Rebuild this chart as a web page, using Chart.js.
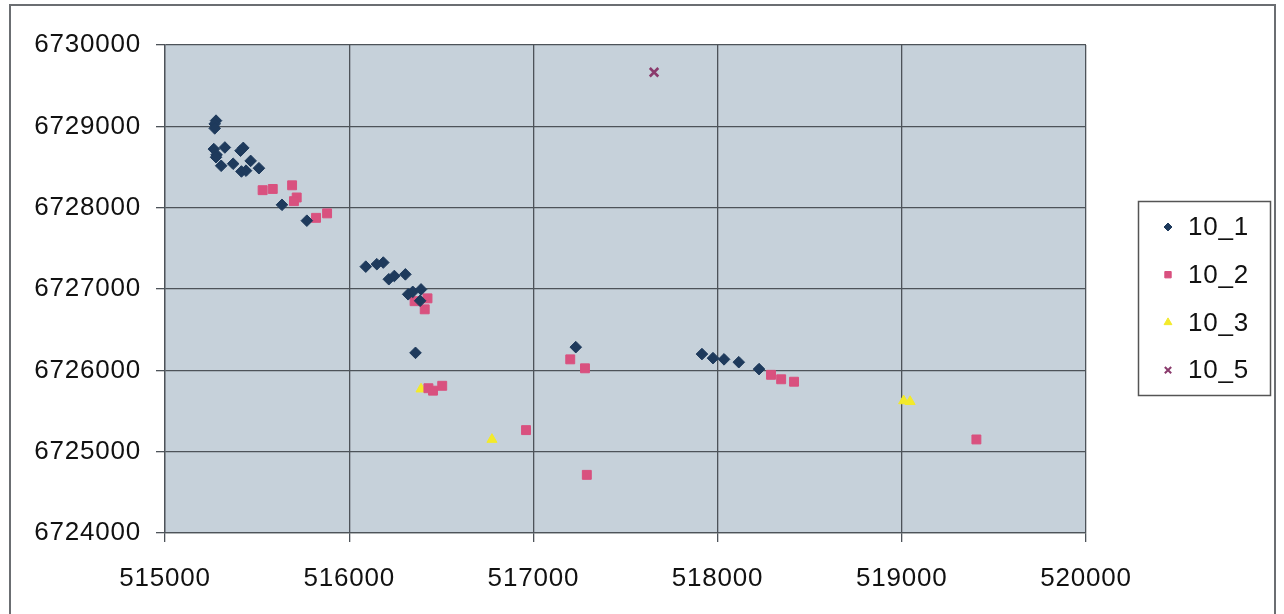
<!DOCTYPE html>
<html>
<head>
<meta charset="utf-8">
<script src="https://cdn.jsdelivr.net/npm/chart.js@4/dist/chart.umd.min.js"></script>
<style>
  html, body { margin: 0; padding: 0; background: #fff; }
  #wrap { width: 1284px; height: 614px; }
</style>
</head>
<body>
<div id="wrap"><canvas id="plot" width="1284" height="614"></canvas></div>
<script>
// Easting / northing tick values
const xTicks = [515000, 516000, 517000, 518000, 519000, 520000];
const yTicks = [6724000, 6725000, 6726000, 6727000, 6728000, 6729000, 6730000];

// survey points per series, [easting, northing]
const pts10_1 = [
  [515277, 6729070], [515270, 6729030], [515270, 6728975],
  [515265, 6728720], [515325, 6728740], [515280, 6728650], [515277, 6728620],
  [515305, 6728515], [515370, 6728540], [515425, 6728735], [515410, 6728700],
  [515465, 6728575], [515415, 6728445], [515440, 6728455], [515510, 6728485],
  [515635, 6728035], [515770, 6727840],
  [516090, 6727275], [516150, 6727305], [516185, 6727325], [516215, 6727120],
  [516245, 6727160], [516305, 6727180], [516320, 6726935], [516345, 6726965],
  [516390, 6726995], [516385, 6726855], [516360, 6726215],
  [517230, 6726285],
  [517915, 6726200], [517975, 6726150], [518035, 6726135], [518115, 6726100],
  [518225, 6726015]
];
const pts10_2 = [
  [515530, 6728215], [515585, 6728230], [515690, 6728275], [515715, 6728125],
  [515700, 6728080], [515820, 6727875], [515880, 6727930],
  [516355, 6726850], [516425, 6726885], [516410, 6726750],
  [516430, 6725780], [516455, 6725750], [516505, 6725810],
  [516960, 6725265], [517200, 6726135], [517280, 6726025], [517290, 6724715],
  [518290, 6725945], [518345, 6725890], [518415, 6725860],
  [519405, 6725150]
];
const pts10_3 = [
  [516390, 6725770], [516775, 6725150], [519010, 6725625], [519045, 6725615]
];
const pts10_5 = [
  [517655, 6729665]
];

const seriesNames = ['10_1', '10_2', '10_3', '10_5'];

const FONT = { family: '"Liberation Sans", Arial, sans-serif', size: 26 };
const GRID = '#4d5359';
const SPACING = '0.8px';

function toXY(list) {
  return list.map(p => ({ x: p[0], y: p[1] }));
}

// white page, outer frame and the grey plot background
const backdrop = {
  id: 'backdrop',
  beforeUpdate(chart) {
    // slightly wider lettering for all labels
    chart.ctx.letterSpacing = SPACING;
  },
  beforeDraw(chart) {
    const { ctx, chartArea: a } = chart;
    ctx.letterSpacing = SPACING;
    ctx.save();
    ctx.fillStyle = '#fff';
    ctx.fillRect(0, 0, chart.width, chart.height);
    ctx.strokeStyle = '#6b6e72';
    ctx.lineWidth = 2;
    ctx.beginPath();
    ctx.moveTo(10, chart.height + 5);
    ctx.lineTo(10, 5);
    ctx.lineTo(1275, 5);
    ctx.lineTo(1275, chart.height + 5);
    ctx.stroke();
    ctx.fillStyle = '#c6d1da';
    ctx.fillRect(a.left, a.top, a.right - a.left, a.bottom - a.top);
    ctx.restore();
  }
};

// boxed legend on the right
const boxLegend = {
  id: 'boxLegend',
  afterDraw(chart) {
    const { ctx } = chart;
    const left = 1138, top = 201, w = 132, h = 194;
    ctx.save();
    ctx.strokeStyle = '#555';
    ctx.lineWidth = 1.5;
    ctx.strokeRect(left + 0.5, top + 0.5, w, h);
    chart.data.datasets.forEach((ds, i) => {
      const cy = 227 + i * 47.7;
      ctx.fillStyle = ds.backgroundColor;
      ctx.strokeStyle = ds.borderColor;
      ctx.lineWidth = ds.pointStyle === 'crossRot' ? 2 : 1;
      Chart.helpers.drawPoint(ctx, {
        pointStyle: ds.pointStyle,
        radius: ds.pointStyle === 'rectRot' ? 4 : 4.5,
        borderWidth: ctx.lineWidth,
        rotation: 0
      }, 1168, cy);
      ctx.fillStyle = '#111';
      ctx.font = FONT.size + 'px ' + FONT.family;
      ctx.textBaseline = 'middle';
      ctx.textAlign = 'left';
      ctx.fillText(ds.label, 1188, cy + 1);
    });
    ctx.restore();
  }
};

new Chart(document.getElementById('plot'), {
  type: 'scatter',
  data: {
    datasets: [
      {
        label: seriesNames[0], data: toXY(pts10_1),
        pointStyle: 'rectRot', pointRadius: 5.8,
        backgroundColor: '#1e3a5c', borderColor: '#1e3a5c', borderWidth: 1
      },
      {
        label: seriesNames[1], data: toXY(pts10_2),
        pointStyle: 'rect', pointRadius: 6.3,
        backgroundColor: '#d9517f', borderColor: '#d9517f', borderWidth: 1
      },
      {
        label: seriesNames[2], data: toXY(pts10_3),
        pointStyle: 'triangle', pointRadius: 5.8,
        backgroundColor: '#f3ea2a', borderColor: '#f3ea2a', borderWidth: 1
      },
      {
        label: seriesNames[3], data: toXY(pts10_5),
        pointStyle: 'crossRot', pointRadius: 6,
        backgroundColor: '#8a3a6c', borderColor: '#8a3a6c', borderWidth: 2.6
      }
    ]
  },
  options: {
    responsive: false,
    animation: false,
    layout: { padding: { top: 45, right: 198, bottom: 0, left: 0 } },
    plugins: {
      legend: { display: false },
      tooltip: { enabled: false }
    },
    scales: {
      x: {
        type: 'linear',
        min: xTicks[0],
        max: xTicks[xTicks.length - 1],
        afterBuildTicks: s => { s.ticks = xTicks.map(v => ({ value: v })); },
        afterFit: s => { s.height = 81; },
        grid: { color: GRID, lineWidth: 1.3, tickLength: 9, tickColor: GRID },
        border: { color: GRID, width: 1.3 },
        ticks: { font: FONT, color: '#111', padding: 21, maxRotation: 0, callback: v => String(v) }
      },
      y: {
        type: 'linear',
        min: yTicks[0],
        max: yTicks[yTicks.length - 1],
        afterBuildTicks: s => { s.ticks = yTicks.map(v => ({ value: v })); },
        afterFit: s => { s.width = 165; },
        grid: { color: GRID, lineWidth: 1.3, tickLength: 9, tickColor: GRID },
        border: { color: GRID, width: 1.3 },
        ticks: { font: FONT, color: '#111', padding: 15, callback: v => String(v) }
      }
    }
  },
  plugins: [backdrop, boxLegend]
});
</script>
</body>
</html>
